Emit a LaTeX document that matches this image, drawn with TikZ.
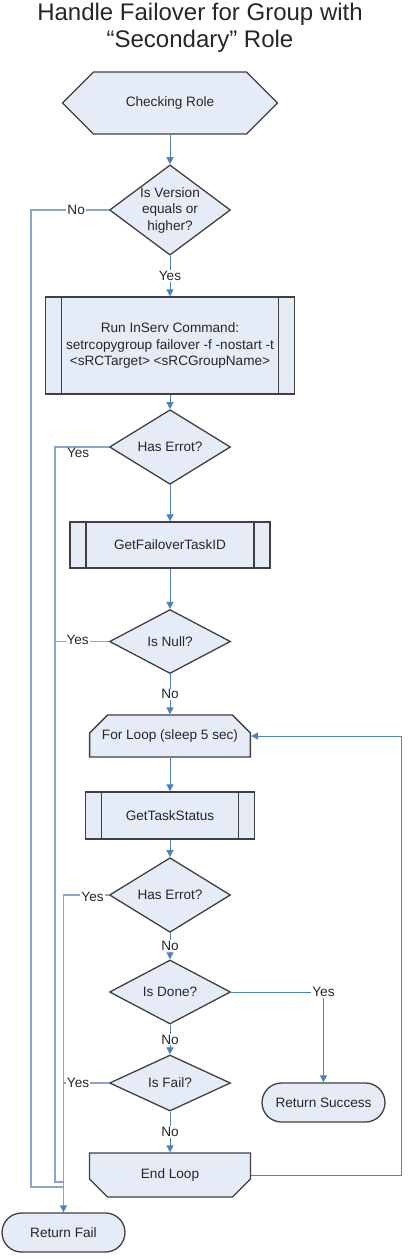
\documentclass[tikz,border=0pt]{standalone}
\usepackage{fontspec}
\setmainfont{Liberation Sans}
\usetikzlibrary{arrows.meta}
\usetikzlibrary{shapes.geometric}
\usetikzlibrary{shapes.misc}
\usetikzlibrary{shapes.symbols}

\definecolor{edgegray}{RGB}{64,64,64}
\definecolor{boxfill}{RGB}{229,236,247}
\definecolor{flowblue}{RGB}{79,129,189}
\definecolor{busblue}{RGB}{140,163,204}

\begin{document}
\begin{tikzpicture}[x=1pt, y=-1pt,
  txt/.style={font=\fontsize{13.6}{16.5}\selectfont, text=black!85, align=center},
  shp/.style={txt, draw=edgegray, fill=boxfill, line width=1.3pt},
  prep/.style={shp, signal, signal to=west and east, signal pointer angle=90, minimum width=215, minimum height=62, inner sep=0},
  decide/.style={shp, diamond, inner sep=0, minimum width=121, minimum height=#1},
  proc/.style={shp, rectangle, path picture={
    \draw[edgegray, line width=1.3pt] ([xshift=16pt]path picture bounding box.north west) -- ([xshift=16pt]path picture bounding box.south west);
    \draw[edgegray, line width=1.3pt] ([xshift=-16pt]path picture bounding box.north east) -- ([xshift=-16pt]path picture bounding box.south east);}},
  loopbox/.style={shp, chamfered rectangle, chamfered rectangle xsep=9pt, chamfered rectangle ysep=9pt, chamfered rectangle corners={#1}},
  term/.style={shp, rounded rectangle, minimum width=123, minimum height=39, inner sep=0},
  wire/.style={draw=busblue, line width=1.2pt},
  arrow/.style={draw=flowblue, line width=1pt, -{Triangle[width=7pt,length=7pt]}},
  busarrow/.style={wire, -{Triangle[width=7pt,length=7pt,color=flowblue]}},
  lbl/.style={txt, fill=white, inner sep=1pt}]

\useasboundingbox (0,0) rectangle (409,1259);

\node[txt, font=\fontsize{24}{27}\selectfont, anchor=north, inner sep=0] (title) at (200,3) {Handle Failover for Group with\\“Secondary” Role};

% main column
\node[prep] (chk) at (170,103) {Checking Role};
\node[decide=90, shape aspect=1.34] (ver) at (170,210) {Is Version\\equals or\\higher?};
\node[proc, minimum width=249, minimum height=97] (cmd) at (170,345.5) {Run InServ Command:\\setrcopygroup failover -f -nostart -t\\<sRCTarget> <sRCGroupName>};
\node[decide=66] (err1) at (170,447) {Has Errot?};
\node[proc, minimum width=200, minimum height=46] (tid) at (170,545) {GetFailoverTaskID};
\node[decide=64] (null) at (170,641.5) {Is Null?};
\node[loopbox={north west,north east}, minimum width=154, minimum height=42] (loop) at (170,736) {For Loop (sleep 5 sec)};
\node[proc, minimum width=169, minimum height=47] (stat) at (170,815.5) {GetTaskStatus};
\node[decide=60] (err2) at (170,895) {Has Errot?};
\node[decide=60] (done) at (170,992) {Is Done?};
\node[decide=56] (fail) at (170,1083) {Is Fail?};
\node[loopbox={south west,south east}, minimum width=161, minimum height=44] (endl) at (170,1175) {End Loop};
\node[term] (succ) at (323.5,1102.5) {Return Success};
\node[term] (rfail) at (63.5,1232.5) {Return Fail};

\foreach \a/\b in {chk/ver, cmd/err1, err1/tid, tid/null, loop/stat, stat/err2}
  \draw[arrow] (\a.south) -- (\b.north);
\foreach \a/\b in {null/loop, err2/done, done/fail, fail/endl}
  \draw[arrow] (\a.south) -- node[lbl]{No} (\b.north);
\draw[arrow] (ver.south) -- node[lbl]{Yes} (cmd.north);

% failure lines on the left
\coordinate (joinA) at (63.5,1187);
\coordinate (joinB) at (63.5,1182);
\draw[wire] (ver.west) -- node[lbl, pos=.42]{No} (31,210) -- (31,1187) -- (joinA);
\draw[wire] (err1.west) -- node[lbl, below, pos=.57, fill=none]{Yes} (55,447) -- (55,1182) -- (joinB);
\draw[wire] (null.west) -- node[lbl, pos=.58, yshift=2]{Yes} (55,641.5);
\draw[busarrow] (err2.west) -- node[lbl, pos=.36, yshift=-2]{Yes} (63.5,895) -- (rfail.north);
\draw[wire] (fail.west) -- node[lbl, pos=.68]{Yes} (63.5,1083);

% loop back and success
\draw[arrow] (done.east) -| node[lbl, pos=.5]{Yes} (succ.north);
\draw[arrow] (endl.east) -- (401,1175) -- (401,736) -- (loop.east);

\end{tikzpicture}
\end{document}
